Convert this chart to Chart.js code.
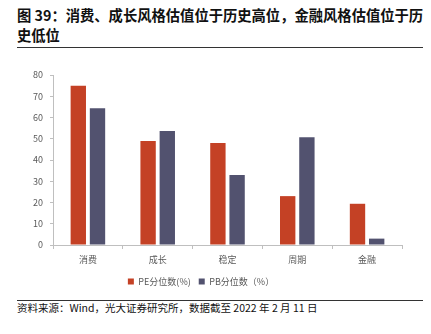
<!DOCTYPE html>
<html>
<head>
<meta charset="utf-8">
<script src="https://cdn.jsdelivr.net/npm/chart.js@4"></script>
<style>
  html, body { margin: 0; padding: 0; background: #fff; }
  body { position: relative; width: 431px; height: 334px; overflow: hidden; font-family: "Noto Sans CJK SC", "Noto Sans", sans-serif; }
  .title { position: absolute; left: 17px; top: 5px; font-size: 14.3px; font-weight: bold; line-height: 20px; color: #111; white-space: nowrap; }
  .rule { position: absolute; left: 17px; width: 406px; height: 1px; background: #333; }
  .wrap { position: absolute; left: 0; top: 56px; width: 431px; height: 240px; }
  .source { position: absolute; left: 17px; top: 300px; font-size: 10.5px; color: #111; white-space: nowrap; }
</style>
</head>
<body>
<div class="title">图 39：消费、成长风格估值位于历史高位，金融风格估值位于历<br>史低位</div>
<div class="rule" style="top:47px"></div>
<div class="wrap"><canvas id="chartValuation"></canvas></div>
<div class="rule" style="top:300px"></div>
<div class="source">资料来源：Wind，光大证券研究所，数据截至 2022 年 2 月 11 日</div>

<script>
  // styles / sectors
  const categories = ['消费', '成长', '稳定', '周期', '金融'];
  // percentile of PE and PB (%)
  const peValues = [75, 49, 48, 23, 19.4];
  const pbValues = [64.3, 53.6, 33, 50.7, 3];
  const yTicks = [0, 10, 20, 30, 40, 50, 60, 70, 80];

  const axisGray = '#bfbfbf';
  const textGray = '#595959';
  const tickFont = { family: "'Noto Sans CJK SC', 'Noto Sans', sans-serif", size: 9 };

  const ctx = document.getElementById('chartValuation');
  new Chart(ctx, {
    type: 'bar',
    data: {
      labels: categories,
      datasets: [
        { label: 'PE分位数(%)', data: peValues, backgroundColor: '#c44125' },
        { label: 'PB分位数（%）', data: pbValues, backgroundColor: '#52526f' }
      ]
    },
    options: {
      responsive: true,
      maintainAspectRatio: false,
      animation: false,
      categoryPercentage: 0.55,
      barPercentage: 0.8,
      layout: { padding: { top: 19, right: 29, left: 0, bottom: 0 } },
      plugins: {
        legend: {
          position: 'bottom',
          labels: {
            boxWidth: 6,
            boxHeight: 6,
            padding: 8,
            color: textGray,
            font: tickFont
          }
        },
        tooltip: { enabled: false }
      },
      scales: {
        x: {
          grid: { display: true, drawOnChartArea: false, drawTicks: true, tickLength: 4, color: axisGray, offset: true },
          border: { color: axisGray, width: 1 },
          ticks: { color: textGray, font: tickFont, padding: 5 },
          afterFit: s => { s.height = 24; }
        },
        y: {
          min: 0,
          max: 80,
          afterBuildTicks: s => { s.ticks = yTicks.map(v => ({ value: v })); },
          grid: { drawOnChartArea: false, drawTicks: true, tickLength: 3, color: axisGray },
          border: { color: axisGray, width: 1 },
          ticks: { color: textGray, font: tickFont, padding: 7 },
          afterFit: s => { s.width = 53; }
        }
      }
    }
  });
</script>
</body>
</html>
